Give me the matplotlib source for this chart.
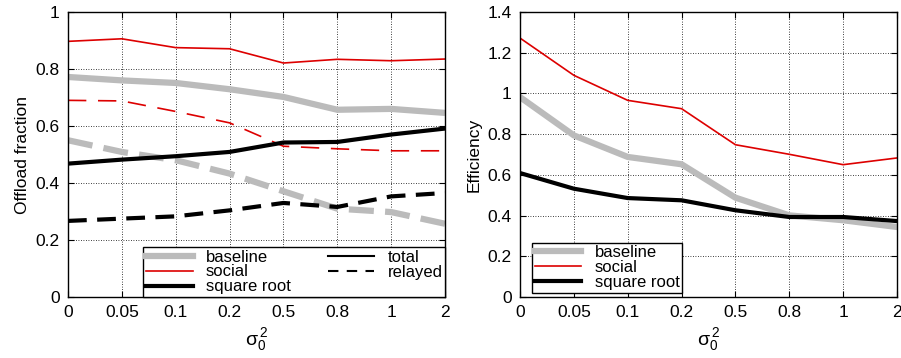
import matplotlib.pyplot as plt
from matplotlib.lines import Line2D

plt.rcParams['font.family'] = ['Liberation Sans', 'DejaVu Sans']
plt.rcParams['mathtext.fontset'] = 'custom'
plt.rcParams['mathtext.rm'] = 'Liberation Sans'
plt.rcParams['mathtext.it'] = 'Liberation Sans'

# x categories (sigma_0^2)
sigma_labels = ["0", "0.05", "0.1", "0.2", "0.5", "0.8", "1", "2"]

# left panel: offload fraction
baseline_total = [0.772, 0.760, 0.751, 0.729, 0.702, 0.657, 0.660, 0.646]
baseline_relayed = [0.550, 0.509, 0.480, 0.433, 0.371, 0.310, 0.298, 0.257]
social_total = [0.897, 0.906, 0.875, 0.871, 0.821, 0.834, 0.829, 0.835]
social_relayed = [0.690, 0.688, 0.651, 0.611, 0.529, 0.520, 0.513, 0.513]
sqrt_total = [0.468, 0.482, 0.494, 0.509, 0.542, 0.544, 0.570, 0.591]
sqrt_relayed = [0.267, 0.275, 0.283, 0.304, 0.330, 0.316, 0.353, 0.365]

# right panel: efficiency
baseline_eff = [0.982, 0.794, 0.688, 0.652, 0.488, 0.401, 0.377, 0.344]
social_eff = [1.272, 1.089, 0.966, 0.925, 0.748, 0.701, 0.650, 0.683]
sqrt_eff = [0.609, 0.532, 0.486, 0.475, 0.426, 0.393, 0.393, 0.373]

GRAY = '#bbbbbb'
RED = '#dd0000'
styles = {
    'baseline': dict(color=GRAY, lw=4.5),
    'social': dict(color=RED, lw=1.2),
    'square root': dict(color='black', lw=3.0),
}

x = list(range(len(sigma_labels)))

fig = plt.figure(figsize=(9.01, 3.58), dpi=100)
ax1 = fig.add_axes([68 / 901, 61 / 358, 377 / 901, 285 / 358])
ax2 = fig.add_axes([520 / 901, 61 / 358, 377 / 901, 285 / 358])


def style_axes(ax, ymax, yticks):
    ax.set_xlim(0, len(sigma_labels) - 1)
    ax.set_ylim(0, ymax)
    ax.set_xticks(x)
    ax.set_xticklabels(sigma_labels)
    ax.set_yticks(yticks)
    ax.set_yticklabels([f"{t:g}" for t in yticks])
    ax.grid(True, color='black', linestyle=(0, (1, 2)), linewidth=0.6)
    ax.tick_params(direction='in', top=True, right=True, length=4,
                   labelsize=12.5, pad=6)
    for s in ax.spines.values():
        s.set_linewidth(1.0)
    ax.set_xlabel(r'$\sigma_0^{\,2}$', fontsize=14, labelpad=4)


# left panel
ax1.plot(x, baseline_total, **styles['baseline'], solid_capstyle='butt')
ax1.plot(x, baseline_relayed, **styles['baseline'], dashes=(4, 1.8))
ax1.plot(x, social_total, **styles['social'])
ax1.plot(x, social_relayed, **styles['social'], dashes=(11, 7))
ax1.plot(x, sqrt_total, **styles['square root'])
ax1.plot(x, sqrt_relayed, **styles['square root'], dashes=(4.5, 2.5))
style_axes(ax1, 1.0, [0, 0.2, 0.4, 0.6, 0.8, 1.0])
ax1.set_ylabel('Offload fraction', fontsize=12.5, labelpad=4)

handles = [Line2D([], [], **styles[k]) for k in ['baseline', 'social', 'square root']]
handles += [Line2D([], [], color='black', lw=1.5),
            Line2D([], [], color='black', lw=1.5, dashes=(5, 4))]
labels = ['baseline', 'social', 'square root', 'total', 'relayed']
leg1 = ax1.legend(handles, labels, ncol=2, loc='lower right', fontsize=12,
                  frameon=True, fancybox=False, edgecolor='black',
                  framealpha=1, borderaxespad=0, handlelength=2.8,
                  labelspacing=0.0, columnspacing=2.2, borderpad=0.15,
                  bbox_to_anchor=(1.0, 0.0))
leg1.get_frame().set_linewidth(1.0)

# right panel
ax2.plot(x, baseline_eff, **styles['baseline'])
ax2.plot(x, social_eff, **styles['social'])
ax2.plot(x, sqrt_eff, **styles['square root'])
style_axes(ax2, 1.4, [0, 0.2, 0.4, 0.6, 0.8, 1.0, 1.2, 1.4])
ax2.set_ylabel('Efficiency', fontsize=12.5, labelpad=4)

leg2 = ax2.legend(handles[:3], labels[:3], loc='lower left', fontsize=12,
                  frameon=True, fancybox=False, edgecolor='black',
                  framealpha=1, handlelength=2.8, labelspacing=0.0,
                  borderpad=0.15, borderaxespad=0,
                  bbox_to_anchor=(0.032, 0.015))
leg2.get_frame().set_linewidth(1.0)

fig.savefig('out.png', dpi=100)
